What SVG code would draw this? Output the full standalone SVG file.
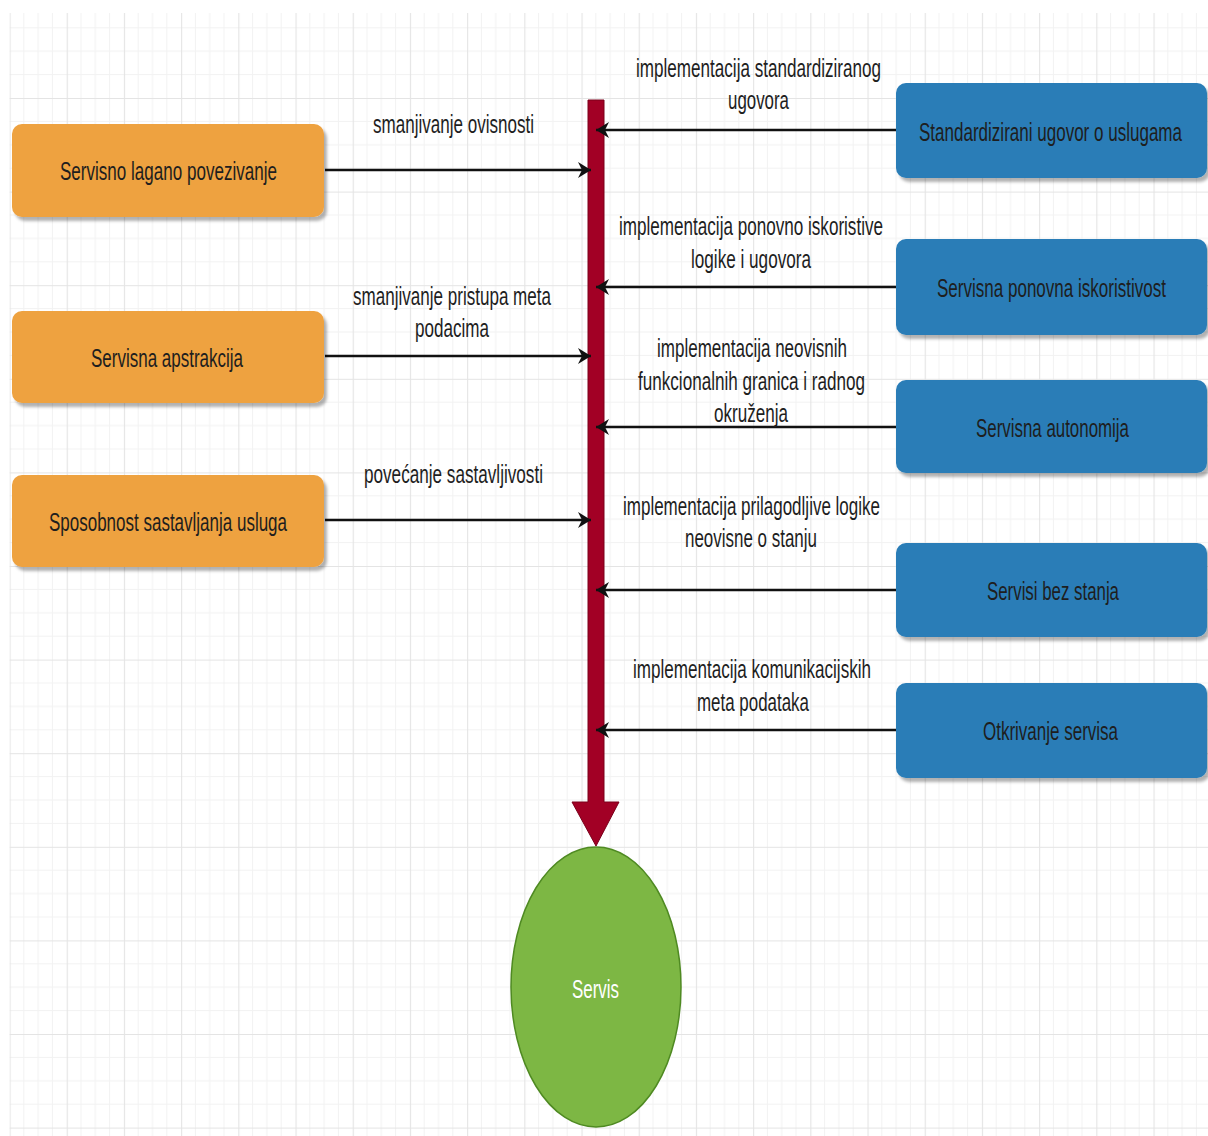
<svg xmlns="http://www.w3.org/2000/svg" width="1208" height="1136" viewBox="0 0 1208 1136">
<style>
text{font-family:"Liberation Sans",Arial,sans-serif;font-size:25px;fill:#1e1e1e}
.node{stroke:none}
.orange{fill:#eea240}
.blue{fill:#2a7db7}
.conn{stroke:#111;stroke-width:2.4;fill:none;marker-end:url(#arr)}
.white{fill:#ffffff}
</style>
<defs>
<pattern id="grid" patternUnits="userSpaceOnUse" x="9.5" y="4.4" width="57.2" height="93.6">
<path d="M14.3,0V93.6M28.6,0V93.6M42.9,0V93.6M0,23.4H57.2M0,46.8H57.2M0,70.2H57.2" stroke="#f2f2f2" stroke-width="1" fill="none"/>
<path d="M0.5,0V93.6M0,0.5H57.2" stroke="#e4e4e4" stroke-width="1.2" fill="none"/>
</pattern>
<filter id="sh" x="-5%" y="-10%" width="115%" height="130%">
<feDropShadow dx="3" dy="4" stdDeviation="1.5" flood-color="#000" flood-opacity="0.3"/>
</filter>
<marker id="arr" markerUnits="userSpaceOnUse" markerWidth="16" markerHeight="20" refX="13" refY="9" orient="auto">
<path d="M0,1 L13,9 L0,17 L4,9 Z" fill="#111"/>
</marker>
</defs>
<rect width="1208" height="1136" fill="#fff"/>
<rect x="9.5" y="13" width="1199" height="1123" fill="url(#grid)"/>

<g id="bar">
<path d="M588,100 H604 V802 H619 L596,846 L572,802 H588 Z" fill="#a20025" stroke="#7a001a" stroke-width="1"/>
</g>

<g id="connectors">
<line class="conn" x1="325" y1="170" x2="591" y2="170"/>
<line class="conn" x1="325" y1="356" x2="591" y2="356"/>
<line class="conn" x1="325" y1="520" x2="591" y2="520"/>
<line class="conn" x1="896" y1="130" x2="596" y2="130"/>
<line class="conn" x1="896" y1="287" x2="596" y2="287"/>
<line class="conn" x1="896" y1="427" x2="596" y2="427"/>
<line class="conn" x1="896" y1="590" x2="596" y2="590"/>
<line class="conn" x1="896" y1="730" x2="596" y2="730"/>
</g>

<g id="labels">
<text x="373" y="133" textLength="161" lengthAdjust="spacingAndGlyphs">smanjivanje ovisnosti</text>
<text x="353" y="305" textLength="198" lengthAdjust="spacingAndGlyphs">smanjivanje pristupa meta</text>
<text x="415" y="337" textLength="74" lengthAdjust="spacingAndGlyphs">podacima</text>
<text x="364" y="483" textLength="179" lengthAdjust="spacingAndGlyphs">povećanje sastavljivosti</text>
<text x="636" y="77" textLength="245" lengthAdjust="spacingAndGlyphs">implementacija standardiziranog</text>
<text x="728" y="109" textLength="61" lengthAdjust="spacingAndGlyphs">ugovora</text>
<text x="619" y="235" textLength="264" lengthAdjust="spacingAndGlyphs">implementacija ponovno iskoristive</text>
<text x="691" y="268" textLength="120" lengthAdjust="spacingAndGlyphs">logike i ugovora</text>
<text x="657" y="357" textLength="190" lengthAdjust="spacingAndGlyphs">implementacija neovisnih</text>
<text x="638" y="390" textLength="227" lengthAdjust="spacingAndGlyphs">funkcionalnih granica i radnog</text>
<text x="714" y="422" textLength="74" lengthAdjust="spacingAndGlyphs">okruženja</text>
<text x="623" y="515" textLength="257" lengthAdjust="spacingAndGlyphs">implementacija prilagodljive logike</text>
<text x="685" y="547" textLength="132" lengthAdjust="spacingAndGlyphs">neovisne o stanju</text>
<text x="633" y="678" textLength="238" lengthAdjust="spacingAndGlyphs">implementacija komunikacijskih</text>
<text x="697" y="711" textLength="112" lengthAdjust="spacingAndGlyphs">meta podataka</text>
</g>

<g id="n-servis">
<ellipse cx="596" cy="987" rx="85" ry="140" fill="#7db744" stroke="#4f8a22" stroke-width="1.5"/>
<text x="572" y="998" textLength="47" lengthAdjust="spacingAndGlyphs" class="white">Servis</text>
</g>

<g id="n-lagano">
<rect class="node orange" x="12" y="124" width="312" height="93" rx="10" filter="url(#sh)"/>
<text x="60" y="180" textLength="217" lengthAdjust="spacingAndGlyphs">Servisno lagano povezivanje</text>
</g>
<g id="n-apstrakcija">
<rect class="node orange" x="12" y="311" width="312" height="92" rx="10" filter="url(#sh)"/>
<text x="91" y="367" textLength="152" lengthAdjust="spacingAndGlyphs">Servisna apstrakcija</text>
</g>
<g id="n-sastavljanje">
<rect class="node orange" x="12" y="475" width="312" height="92" rx="10" filter="url(#sh)"/>
<text x="49" y="531" textLength="238" lengthAdjust="spacingAndGlyphs">Sposobnost sastavljanja usluga</text>
</g>

<g id="n-ugovor">
<rect class="node blue" x="896" y="83" width="311" height="95" rx="10" filter="url(#sh)"/>
<text x="919" y="141" textLength="263" lengthAdjust="spacingAndGlyphs">Standardizirani ugovor o uslugama</text>
</g>
<g id="n-iskoristivost">
<rect class="node blue" x="896" y="239" width="311" height="96" rx="10" filter="url(#sh)"/>
<text x="937" y="297" textLength="229" lengthAdjust="spacingAndGlyphs">Servisna ponovna iskoristivost</text>
</g>
<g id="n-autonomija">
<rect class="node blue" x="896" y="380" width="311" height="93" rx="10" filter="url(#sh)"/>
<text x="976" y="437" textLength="153" lengthAdjust="spacingAndGlyphs">Servisna autonomija</text>
</g>
<g id="n-bezstanja">
<rect class="node blue" x="896" y="543" width="311" height="94" rx="10" filter="url(#sh)"/>
<text x="987" y="600" textLength="132" lengthAdjust="spacingAndGlyphs">Servisi bez stanja</text>
</g>
<g id="n-otkrivanje">
<rect class="node blue" x="896" y="683" width="311" height="95" rx="10" filter="url(#sh)"/>
<text x="983" y="740" textLength="135" lengthAdjust="spacingAndGlyphs">Otkrivanje servisa</text>
</g>
</svg>
